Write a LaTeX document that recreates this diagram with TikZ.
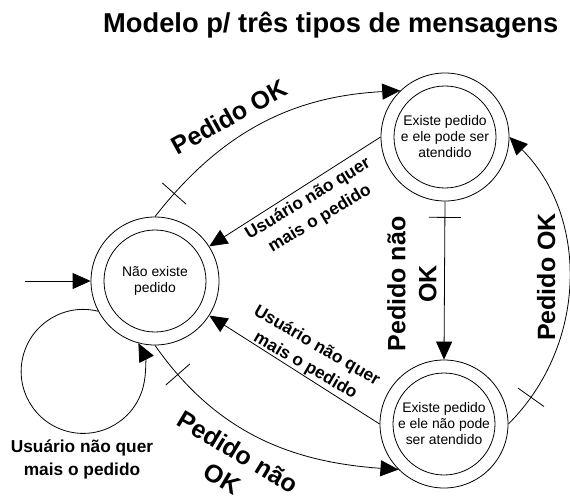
\documentclass[tikz,border=0pt]{standalone}
\usepackage{fontspec}
\setmainfont{Liberation Sans}
\usetikzlibrary{arrows.meta,decorations.markings}
\begin{document}
\begin{tikzpicture}[x=1pt,y=1pt,
  state/.style={circle, draw, line width=0.8pt, minimum size=128pt, inner sep=0pt,
    align=center, font=\fontsize{13.9}{16}\selectfont},
  innerring/.style={line width=0.8pt},
  edge/.style={line width=0.8pt, -{Triangle[length=18pt,width=16pt]}},
  barat/.style={postaction={decorate, decoration={markings,
      mark=at position #1 with {\draw[line width=0.8pt, arrows=-] (0pt,-16pt) -- (0pt,16pt);}}}},
  biglabel/.style={font=\bfseries\fontsize{25}{31}\selectfont, align=center, inner sep=0pt},
  midlabel/.style={font=\bfseries\fontsize{17.3}{23}\selectfont, align=center, inner sep=0pt},
  titlestyle/.style={font=\bfseries\fontsize{27.3}{32}\selectfont, inner sep=0pt}
]
\useasboundingbox (0,0) rectangle (570,499);

\node[titlestyle, anchor=base west] (title) at (103,466) {Modelo p/ três tipos de mensagens};

\node[state] (A) at (155,218) {Não existe\\pedido};
\node[state] (B) at (445,362) {Existe pedido\\e ele pode ser\\atendido};
\node[state] (C) at (444,75) {Existe pedido\\e ele não pode\\ser atendido};
\draw[innerring] (A.center) circle[radius=51pt];
\draw[innerring] (B.center) circle[radius=51pt];
\draw[innerring] (C.center) circle[radius=51pt];

\coordinate (start) at (25,218);

\draw[edge] (start) -- (A.west);
\draw[edge, barat=30pt] (A.north) to[out=52, in=183] (B.134);
\draw[edge] (B.west) -- (A);
\draw[edge, barat=16pt] (B.south) -- (C.north);
\draw[edge] (C.west) -- (A);
\draw[edge, barat=37pt] (A.south) to[out=-55, in=176] (C.225);
\draw[edge, barat=35pt] (C.east) to[out=45, in=-45] (B.east);
\draw[edge] (A.208) arc[start angle=76, end angle=387, radius=62pt];

\node[biglabel, rotate=29] (lAB) at (229,382) {Pedido OK};
\node[midlabel, rotate=31] (lBA) at (314,290) {Usuário não quer\\mais o pedido};
\node[biglabel, rotate=90] (lBC) at (412,215) {Pedido não\\OK};
\node[midlabel, rotate=-30] (lCA) at (311,143) {Usuário não quer\\mais o pedido};
\node[biglabel, rotate=-31] (lAC) at (230,34) {Pedido não\\OK};
\node[biglabel, rotate=90, anchor=base] (lCB) at (555,222) {Pedido OK};
\node[midlabel] (lAA) at (82,40) {Usuário não quer\\mais o pedido};
\end{tikzpicture}
\end{document}
